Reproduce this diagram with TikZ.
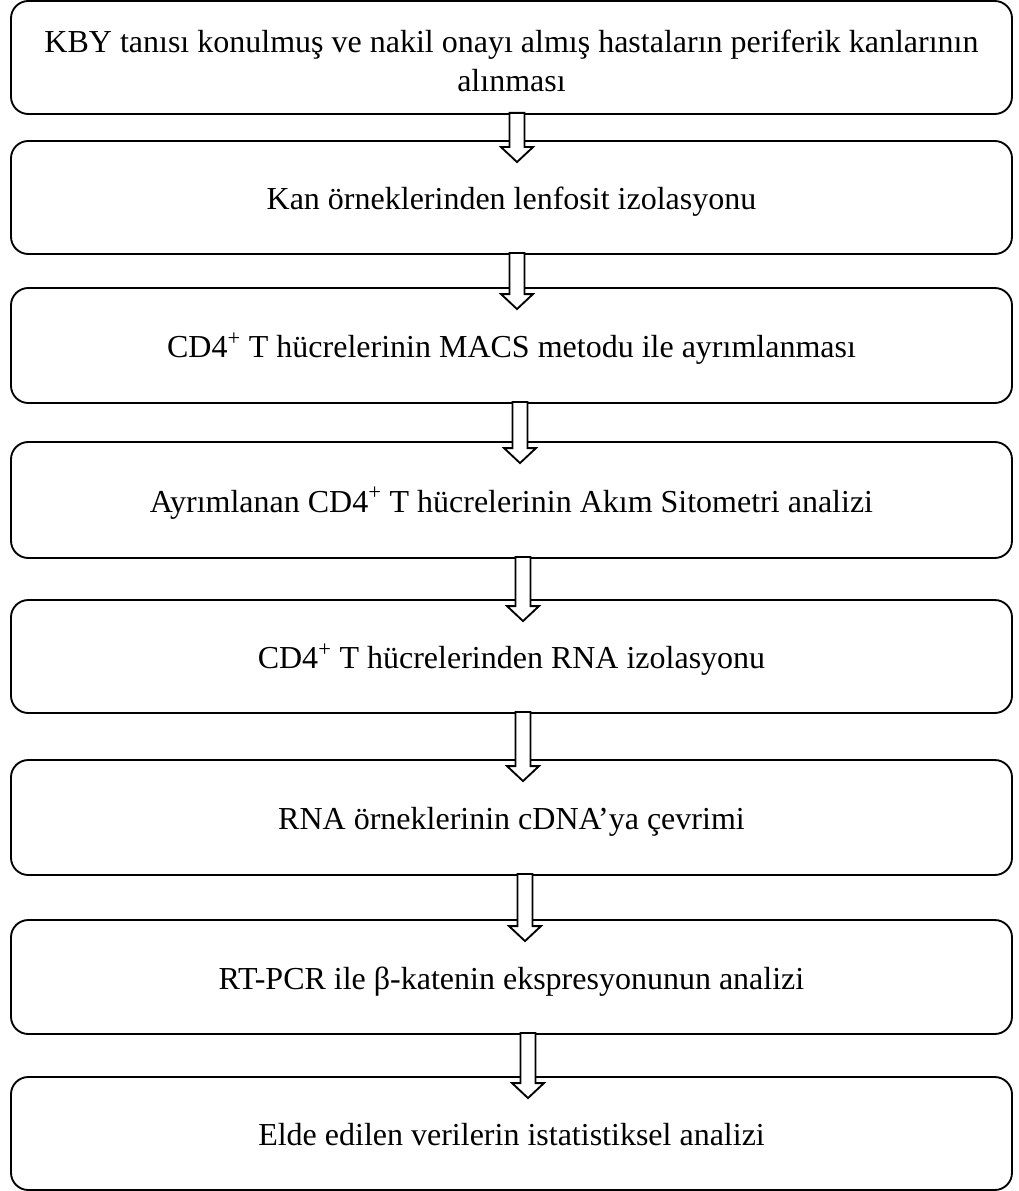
\documentclass[tikz,border=0pt]{standalone}
\usepackage{fontspec}
\setmainfont{Liberation Serif}
\usetikzlibrary{calc}

\tikzset{
	stepbox/.style={draw, line width=1.4pt, rounded corners=13pt, minimum width=1001*0.75pt, align=center, inner sep=0pt, font=\fontsize{24}{29}\selectfont},
	oneline/.style={text height=23pt, text depth=5pt},
	blockarrow/.style={draw, fill=white, line width=1.4pt, line join=miter}
}
% hollow down arrow from the bottom of #1 into the top of #2, at x=#3
\newcommand{\flowarrow}[3]{%
	\coordinate (a) at (#3,0 |- #1.south);
	\coordinate (b) at (#3,0 |- #2.north);
	\draw[blockarrow] ($(a)+(-7.5,-2)$) -- ($(b)+(-7.5,7)$) -- ($(b)+(-16,7)$) -- ($(b)+(0,22)$) -- ($(b)+(16,7)$) -- ($(b)+(7.5,7)$) -- ($(a)+(7.5,-2)$) -- cycle;
}

\begin{document}
\begin{tikzpicture}[x=0.75pt,y=0.75pt,yscale=-1,xscale=1]
	\useasboundingbox (0,0) rectangle (1019,1191);

	%Shape: Rounded Rectangle [id:step1]
	\node[stepbox, minimum height=113*0.75pt] (s1) at (511.5,57.5) {\rule{0pt}{21.5pt}KBY tanısı konulmuş ve nakil onayı almış hastaların periferik kanlarının\\alınması};
	%Shape: Rounded Rectangle [id:step2]
	\node[stepbox, oneline, minimum height=113*0.75pt] (s2) at (511.5,197.5) {Kan örneklerinden lenfosit izolasyonu};
	%Shape: Rounded Rectangle [id:step3]
	\node[stepbox, oneline, minimum height=115*0.75pt] (s3) at (511.5,345.5) {CD4\textsuperscript{+} T hücrelerinin MACS metodu ile ayrımlanması};
	%Shape: Rounded Rectangle [id:step4]
	\node[stepbox, oneline, minimum height=116*0.75pt] (s4) at (511.5,500) {Ayrımlanan CD4\textsuperscript{+} T hücrelerinin Akım Sitometri analizi};
	%Shape: Rounded Rectangle [id:step5]
	\node[stepbox, oneline, minimum height=113*0.75pt] (s5) at (511.5,656.5) {CD4\textsuperscript{+} T hücrelerinden RNA izolasyonu};
	%Shape: Rounded Rectangle [id:step6]
	\node[stepbox, oneline, minimum height=115*0.75pt] (s6) at (511.5,817.5) {RNA örneklerinin cDNA’ya çevrimi};
	%Shape: Rounded Rectangle [id:step7]
	\node[stepbox, oneline, minimum height=114*0.75pt] (s7) at (511.5,977) {RT-PCR ile β-katenin ekspresyonunun analizi};
	%Shape: Rounded Rectangle [id:step8]
	\node[stepbox, oneline, minimum height=113*0.75pt] (s8) at (511.5,1133.5) {Elde edilen verilerin istatistiksel analizi};

	%Block Arrows
	\flowarrow{s1}{s2}{517}
	\flowarrow{s2}{s3}{517}
	\flowarrow{s3}{s4}{520}
	\flowarrow{s4}{s5}{523}
	\flowarrow{s5}{s6}{523}
	\flowarrow{s6}{s7}{525}
	\flowarrow{s7}{s8}{528}
\end{tikzpicture}
\end{document}
